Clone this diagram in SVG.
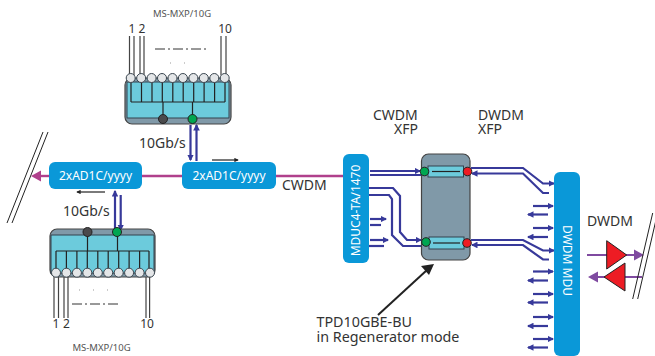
<svg xmlns="http://www.w3.org/2000/svg" width="655" height="356" viewBox="0 0 655 356">
<style>
text{font-family:"Noto Sans","Open Sans","Liberation Sans",sans-serif;fill:#333}
.l{font-size:14px}
.s{font-size:9.500px;fill:#555}
.n{font-size:12px;fill:#333}
.t{font-size:12px;fill:#fff}
.box{fill:#0a98d8}
.bl{fill:none;stroke:#37399a;stroke-width:2.200}
.pk{fill:none;stroke:#b0408c;stroke-width:2.400}
.pu{fill:none;stroke:#7f4aa0;stroke-width:2.200}
.k{fill:none;stroke:#222;stroke-width:1.200}
.g{fill:none;stroke:#444;stroke-width:1.200}
.mod{fill:#8099a8;stroke:#444;stroke-width:1.200}
.in{fill:#6ccbdc;stroke:#33424e;stroke-width:1}
.c{fill:#e4e6e8;stroke:#3a4650;stroke-width:1}
.dk{fill:#4a4a4c;stroke:#222;stroke-width:1}
.gr{fill:#00a651;stroke:#222;stroke-width:1}
.rd{fill:#ed1c24;stroke:#222;stroke-width:1}
.tr{fill:#ed1c24;stroke:#222;stroke-width:1}
.d1{fill:none;stroke:#333;stroke-width:1;stroke-dasharray:10 3 2 3}
.d2{fill:none;stroke:#999;stroke-width:1;stroke-dasharray:1 13}
</style>
<defs>
<marker id="b" viewBox="0 0 6 6" refX="5" refY="3" markerWidth="3" markerHeight="3" orient="auto-start-reverse"><path d="M0 0L6 3L0 6Z" fill="#37399a"/></marker>
<marker id="t" viewBox="0 0 6 6" refX="5" refY="3" markerWidth="3.600" markerHeight="3.600" orient="auto"><path d="M0 0L6 3L0 6Z" fill="#222"/></marker>
</defs>
<g id="connectors">
<path class="pk" d="M142 176H182M276 176H343"/>
<path class="pk" d="M49 176H38"/><path d="M31 176L41 170.500V181.500Z" fill="#b0408c"/>
<path class="bl" d="M190.500 125V160" marker-end="url(#b)"/>
<path class="bl" d="M196.500 161V125" marker-end="url(#b)"/>
<path class="bl" d="M115 233V191" marker-end="url(#b)"/>
<path class="bl" d="M120.700 195V230" marker-end="url(#b)"/>
<path class="k" d="M212 160H238" marker-end="url(#t)"/>
<path class="k" d="M105 192H77" marker-end="url(#t)"/>
<path class="bl" d="M370 171H420" marker-end="url(#b)"/>
<path class="bl" d="M370 175H422"/>
<path class="bl" d="M369 188H393L400 196V232L407 240H421" marker-end="url(#b)"/>
<path class="bl" d="M369 195H389L392 199V235L403 246H422"/>
<path class="bl" d="M370 219H386" marker-end="url(#b)"/>
<path class="bl" d="M370 225H381"/>
<path class="bl" d="M370 240H388" marker-end="url(#b)"/>
<path class="bl" d="M369 246H384"/>
<path class="bl" d="M471 168H523L543 183.500H554" marker-end="url(#b)"/>
<path class="bl" d="M549 193H543L523 173.500H472" marker-end="url(#b)"/>
<path class="bl" d="M471 240H523L543 250.500H554" marker-end="url(#b)"/>
<path class="bl" d="M549 259.500H543L523 245H472" marker-end="url(#b)"/>
<path class="bl" d="M533 206H553" marker-end="url(#b)"/>
<path class="bl" d="M533 228H553" marker-end="url(#b)"/>
<path class="bl" d="M533 271.500H553" marker-end="url(#b)"/>
<path class="bl" d="M533 294H553" marker-end="url(#b)"/>
<path class="bl" d="M533 317H553" marker-end="url(#b)"/>
<path class="bl" d="M533 339H553" marker-end="url(#b)"/>
<path class="bl" d="M548 214.500H528" marker-end="url(#b)"/>
<path class="bl" d="M548 237H528" marker-end="url(#b)"/>
<path class="bl" d="M548 280.500H528" marker-end="url(#b)"/>
<path class="bl" d="M548 302.500H528" marker-end="url(#b)"/>
<path class="bl" d="M548 326H528" marker-end="url(#b)"/>
<path class="bl" d="M548 347.500H528" marker-end="url(#b)"/>
<path class="pu" d="M587 255H636"/><path d="M644 255L634 249.500V260.500Z" fill="#7f4aa0"/>
<path class="pu" d="M642 277H596"/><path d="M588 277L598 271.500V282.500Z" fill="#7f4aa0"/>
<path class="k" style="stroke-width:1" d="M43 132L7 223M48 132L12 223M652.700 213L632.700 299M655.500 222L637.700 299"/>
<path fill="none" stroke="#222" stroke-width="2" d="M378 315L427 270"/>
<path d="M434 264L429 275L421 266Z" fill="#222"/>
</g>
<g id="ms-mxp-top">
<text class="s" x="182" y="17" text-anchor="middle">MS-MXP/10G</text>
<text class="n" x="132" y="33" text-anchor="middle">1</text><text class="n" x="142" y="33" text-anchor="middle">2</text><text class="n" x="225" y="33" text-anchor="middle">10</text>
<path class="g" d="M129.500 36V75M134 36V75M140 36V75M144 36V75M221 36V75M226 36V75"/>
<path class="d1" d="M155 49H208"/><path class="d2" d="M170 63H198"/>
<rect class="mod" x="125" y="78" width="106" height="46" rx="7"/>
<rect class="in" x="127" y="82" width="102" height="36"/>
<path class="k" d="M131 78V102M141.500 78V102M152 78V102M162.300 78V102M172.800 78V102M183.200 78V102M193.700 78V102M204.100 78V102M214.600 78V102M225 78V102M131 102H225M163 102V119M192.500 102V119"/>
<circle class="c" cx="130.700" cy="78" r="4.500"/><circle class="c" cx="141.200" cy="78" r="4.500"/><circle class="c" cx="151.600" cy="78" r="4.500"/><circle class="c" cx="162" cy="78" r="4.500"/><circle class="c" cx="172.500" cy="78" r="4.500"/><circle class="c" cx="182.900" cy="78" r="4.500"/><circle class="c" cx="193.400" cy="78" r="4.500"/><circle class="c" cx="203.800" cy="78" r="4.500"/><circle class="c" cx="214.300" cy="78" r="4.500"/><circle class="c" cx="224.700" cy="78" r="4.500"/>
<circle class="dk" cx="163" cy="119" r="4.500"/><circle class="gr" cx="192.500" cy="119" r="4.500"/>
</g>
<g id="ms-mxp-bottom">
<rect class="mod" x="50" y="229" width="105" height="48" rx="7"/>
<rect class="in" x="51" y="235" width="103" height="38"/>
<path class="k" d="M56 251V273M66.400 251V273M76.900 251V273M87.300 251V273M97.800 251V273M108.200 251V273M118.700 251V273M129.100 251V273M139.600 251V273M149 251V273M56 251H149M87.500 232V251M117.500 232V251"/>
<circle class="c" cx="56" cy="272.700" r="4.500"/><circle class="c" cx="66.400" cy="272.700" r="4.500"/><circle class="c" cx="76.900" cy="272.700" r="4.500"/><circle class="c" cx="87.300" cy="272.700" r="4.500"/><circle class="c" cx="97.800" cy="272.700" r="4.500"/><circle class="c" cx="108.200" cy="272.700" r="4.500"/><circle class="c" cx="118.700" cy="272.700" r="4.500"/><circle class="c" cx="129.100" cy="272.700" r="4.500"/><circle class="c" cx="139.600" cy="272.700" r="4.500"/><circle class="c" cx="150" cy="272.700" r="4.500"/>
<circle class="dk" cx="87.500" cy="232" r="4.500"/><circle class="gr" cx="117" cy="232" r="4.500"/>
<path class="g" d="M54 277V318M58.500 277V318M64 277V318M68 277V318M146 277V318M149.600 277V318"/>
<path class="d1" d="M72 304H118"/><path class="d2" d="M79 290H111"/>
<text class="n" x="56" y="328" text-anchor="middle">1</text><text class="n" x="66.500" y="328" text-anchor="middle">2</text><text class="n" x="147" y="328" text-anchor="middle">10</text>
<text class="s" x="101.500" y="351" text-anchor="middle">MS-MXP/10G</text>
</g>
<g id="ad1c-left"><rect class="box" x="49" y="162" width="93" height="27" rx="6"/><text class="t" x="95.500" y="180" text-anchor="middle">2xAD1C/yyyy</text></g>
<g id="ad1c-right"><rect class="box" x="182" y="162" width="94" height="27" rx="6"/><text class="t" x="229" y="180" text-anchor="middle">2xAD1C/yyyy</text></g>
<g id="mduc"><rect class="box" x="343" y="154" width="26" height="109" rx="6"/><text class="t" transform="translate(360 210.500) rotate(-90)" text-anchor="middle">MDUC4-TA/1470</text></g>
<g id="regen">
<rect class="mod" x="421.500" y="154" width="48.500" height="106" rx="7"/>
<rect class="in" x="428" y="166" width="35.500" height="11"/><path class="k" d="M432 171.500H460"/>
<rect class="in" x="429" y="237" width="35" height="12"/><path class="k" d="M433 243H460"/>
<circle class="gr" cx="424.500" cy="171.500" r="4.300"/><circle class="rd" cx="467.500" cy="171.500" r="4.300"/>
<circle class="gr" cx="426" cy="242" r="4.300"/><circle class="rd" cx="467" cy="243" r="4.300"/>
</g>
<g id="mdu"><path class="box" d="M554 178a6 6 0 0 1 6-6h14a6 6 0 0 1 6 6V350a6 6 0 0 1-6 6h-14a6 6 0 0 1-6-6Z"/><text class="t" transform="translate(563 260.500) rotate(90)" text-anchor="middle">DWDM MDU</text></g>
<g id="amps"><path class="tr" d="M606.700 240.700L626.700 255L606.700 269Z"/><path class="tr" d="M625 263L604 277L625 291Z"/></g>
<g id="labels">
<text class="l" x="139" y="148">10Gb/s</text>
<text class="l" x="63" y="216">10Gb/s</text>
<text class="l" x="282" y="190">CWDM</text>
<text class="l"><tspan x="373" y="120">CWDM</tspan><tspan x="394" y="134">XFP</tspan></text>
<text class="l"><tspan x="478" y="120">DWDM</tspan><tspan x="478" y="134">XFP</tspan></text>
<text class="l" x="587" y="226">DWDM</text>
<text class="l" style="font-size:14.300px"><tspan x="316.500" y="327">TPD10GBE-BU</tspan><tspan x="316.500" y="342">in Regenerator mode</tspan></text>
</g>
</svg>
